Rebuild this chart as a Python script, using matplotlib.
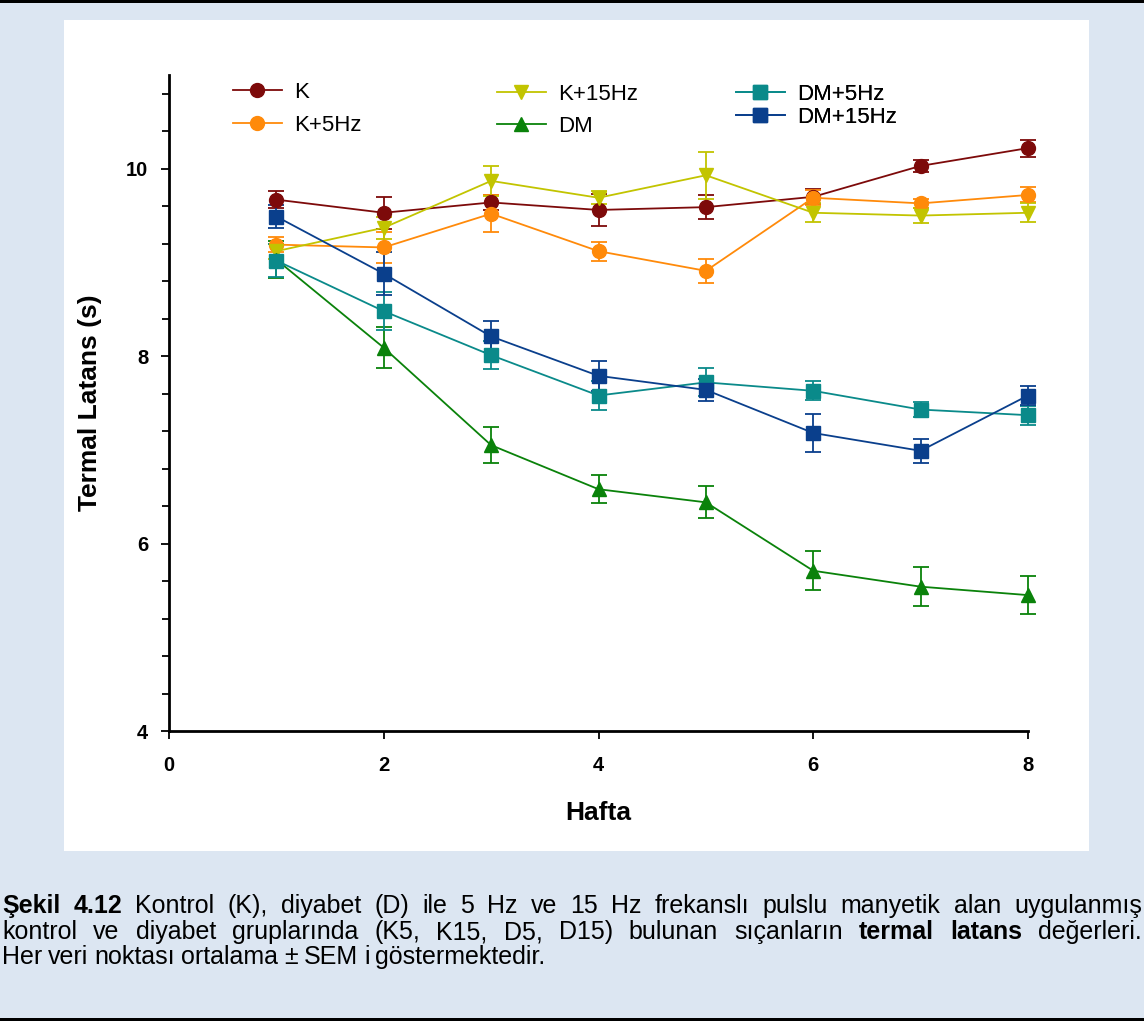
import numpy as np
import matplotlib.pyplot as plt
from matplotlib.ticker import MultipleLocator
from matplotlib.patches import Rectangle

plt.rcParams['font.family'] = ['Liberation Sans', 'DejaVu Sans']

# Thermal latency (s) per week, mean and SEM
weeks = [1, 2, 3, 4, 5, 6, 7, 8]
k_mean = [9.67, 9.53, 9.64, 9.56, 9.59, 9.70, 10.03, 10.22]
k_sem = [0.09, 0.17, 0.08, 0.17, 0.13, 0.08, 0.06, 0.09]
k5_mean = [9.19, 9.16, 9.52, 9.12, 8.91, 9.69, 9.63, 9.72]
k5_sem = [0.08, 0.17, 0.20, 0.10, 0.13, 0.08, 0.05, 0.08]
k15_mean = [9.12, 9.37, 9.87, 9.69, 9.93, 9.53, 9.50, 9.53]
k15_sem = [0.08, 0.12, 0.16, 0.07, 0.25, 0.10, 0.08, 0.10]
dm_mean = [9.03, 8.09, 7.05, 6.58, 6.44, 5.71, 5.54, 5.45]
dm_sem = [0.20, 0.22, 0.19, 0.15, 0.17, 0.21, 0.21, 0.20]
dm5_mean = [9.02, 8.48, 8.01, 7.58, 7.72, 7.63, 7.43, 7.37]
dm5_sem = [0.18, 0.20, 0.15, 0.16, 0.15, 0.10, 0.08, 0.10]
dm15_mean = [9.49, 8.88, 8.21, 7.79, 7.64, 7.18, 6.99, 7.58]
dm15_sem = [0.12, 0.23, 0.17, 0.16, 0.12, 0.20, 0.13, 0.10]

labels = ['K', 'K+5Hz', 'K+15Hz', 'DM', 'DM+5Hz', 'DM+15Hz']
means = [k_mean, k5_mean, k15_mean, dm_mean, dm5_mean, dm15_mean]
sems = [k_sem, k5_sem, k15_sem, dm_sem, dm5_sem, dm15_sem]
colors = ['#7d0a0a', '#ff8a0a', '#c2c400', '#0a820a', '#0a8a8a', '#0a3f8c']
markers = ['o', 'o', 'v', '^', 's', 's']

bg = '#dce6f2'
fig = plt.figure(figsize=(11.44, 10.21), dpi=100, facecolor=bg)

# white panel behind the chart and the black rules
fig.patches.append(Rectangle((64 / 1144, 1 - 851 / 1021), (1089 - 64) / 1144, (851 - 20) / 1021,
                             transform=fig.transFigure, facecolor='white', edgecolor='none', zorder=-5))
fig.patches.append(Rectangle((0, 1 - 3 / 1021), 1, 3 / 1021, transform=fig.transFigure,
                             facecolor='black', edgecolor='none', zorder=-5))
fig.patches.append(Rectangle((0, 0), 1, 3 / 1021, transform=fig.transFigure,
                             facecolor='black', edgecolor='none', zorder=-5))

ax = fig.add_axes([169 / 1144, 1 - 731 / 1021, (1028 - 169) / 1144, (731 - 75) / 1021])
ax.set_facecolor('none')

handles = []
for lab, m, s, c, mk in zip(labels, means, sems, colors, markers):
    cont = ax.errorbar(weeks, m, yerr=s, color=c, marker=mk, markersize=10, lw=1.3,
                       capsize=6, elinewidth=1.3, capthick=1.3, label=lab)
    handles.append(cont[0])
    for art in cont.get_children():
        art.set_clip_on(False)

ax.set_xlim(0, 8)
ax.set_ylim(4, 11)
ax.set_xticks([0, 2, 4, 6, 8])
ax.set_yticks([4, 6, 8, 10])
ax.yaxis.set_minor_locator(MultipleLocator(0.4))
for side in ['top', 'right']:
    ax.spines[side].set_visible(False)
for side in ['left', 'bottom']:
    ax.spines[side].set_linewidth(2)
ax.tick_params(axis='both', which='major', direction='out', length=6, width=1.3,
               labelsize=14.5)
ax.tick_params(axis='x', which='major', pad=12)
ax.tick_params(axis='y', which='major', pad=9)
ax.tick_params(axis='y', which='minor', direction='out', length=5, width=1.3)
for t in ax.get_xticklabels() + ax.get_yticklabels():
    t.set_fontweight('bold')
ax.set_xlabel('Hafta', fontsize=19, fontweight='bold', labelpad=19)
ax.set_ylabel('Termal Latans (s)', fontsize=19, fontweight='bold', labelpad=17)

# legend: three columns placed separately (col x, top y, row spacing)
cols = [(0, 1, 233, 82, 0.53), (2, 3, 497, 84, 0.49), (4, 5, 736, 84, 0.08)]
for i, j, px, py, sp in cols:
    leg = ax.legend([handles[i], handles[j]], [labels[i], labels[j]], frameon=False,
                    loc='upper left', bbox_to_anchor=(px / 1144, 1 - py / 1021),
                    bbox_transform=fig.transFigure, fontsize=16, handlelength=2.2,
                    handletextpad=0.55, labelspacing=sp, borderpad=0, borderaxespad=0)
    ax.add_artist(leg)

# caption, justified lines
lines = [
    ([('Şekil 4.12', 'bold'), ('Kontrol (K), diyabet (D) ile 5 Hz ve 15 Hz frekanslı pulslu manyetik alan uygulanmış', 'normal')], True),
    ([('kontrol ve diyabet gruplarında (K5, K15, D5, D15) bulunan sıçanların', 'normal'),
      ('termal latans', 'bold'), ('değerleri.', 'normal')], True),
    ([('Her veri noktası ortalama ± SEM i göstermektedir.', 'normal')], False),
]
fig.canvas.draw()
renderer = fig.canvas.get_renderer()
x0, x1 = 2 / 1144, 1142 / 1144
ybase = [913, 939, 964]
for (parts, justify), yb in zip(lines, ybase):
    words = []
    for txt, w in parts:
        for word in txt.split(' '):
            words.append((word, w))
    arts = [fig.text(0, 1 - yb / 1021, wd, fontsize=18, fontweight=w, va='baseline')
            for wd, w in words]
    widths = [a.get_window_extent(renderer).width / 1144 for a in arts]
    if justify:
        gap = (x1 - x0 - sum(widths)) / (len(arts) - 1)
    else:
        gap = 6 / 1144
    x = x0
    for a, w in zip(arts, widths):
        a.set_x(x)
        x += w + gap

fig.savefig('out.png', dpi=100, facecolor=bg)
